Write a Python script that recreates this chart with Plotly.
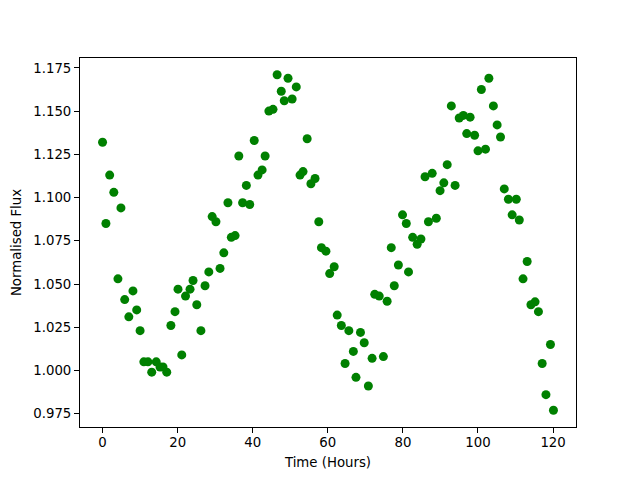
import plotly.graph_objects as go

hours = [0.0, 0.9, 1.9, 3.0, 4.1, 4.9, 5.9, 7.0, 8.1, 9.1, 10.0, 11.0, 12.1, 13.1, 14.3,
         15.3, 16.1, 17.1, 18.2, 19.3, 20.1, 21.1, 22.1, 23.3, 24.1, 25.1, 26.2, 27.3,
         28.3, 29.2, 30.2, 31.3, 32.3, 33.4, 34.3, 35.3, 36.3, 37.3, 38.3, 39.2, 40.4,
         41.4, 42.5, 43.3, 44.3, 45.4, 46.5, 47.6, 48.4, 49.4, 50.5, 51.6, 52.6, 53.4,
         54.5, 55.5, 56.6, 57.6, 58.3, 59.5, 60.5, 61.7, 62.5, 63.6, 64.6, 65.6, 66.8,
         67.5, 68.7, 69.7, 70.8, 71.8, 72.5, 73.7, 74.8, 75.8, 76.9, 77.7, 78.8, 79.9,
         80.9, 81.5, 82.6, 83.8, 84.8, 85.9, 86.8, 87.8, 88.9, 89.9, 90.9, 91.8, 92.9,
         93.9, 95.0, 96.1, 97.0, 97.9, 99.1, 100.0, 100.9, 102.0, 102.9, 104.1, 105.1,
         106.0, 107.0, 108.1, 109.1, 110.2, 111.0, 112.0, 113.1, 114.1, 115.2, 116.1,
         117.1, 118.1, 119.3, 120.1]

flux = [1.132, 1.085, 1.113, 1.103, 1.053, 1.094, 1.041, 1.031, 1.046, 1.035, 1.023,
        1.005, 1.005, 0.999, 1.005, 1.002, 1.002, 0.999, 1.026, 1.034, 1.047, 1.009,
        1.043, 1.047, 1.052, 1.038, 1.023, 1.049, 1.057, 1.089, 1.086, 1.059, 1.068,
        1.097, 1.077, 1.078, 1.124, 1.097, 1.107, 1.096, 1.133, 1.113, 1.116, 1.124,
        1.150, 1.151, 1.171, 1.1615, 1.156, 1.169, 1.157, 1.164, 1.113, 1.115, 1.134,
        1.108, 1.111, 1.086, 1.071, 1.069, 1.056, 1.060, 1.032, 1.026, 1.004, 1.023,
        1.011, 0.996, 1.022, 1.016, 0.991, 1.007, 1.044, 1.043, 1.008, 1.040, 1.071,
        1.049, 1.061, 1.090, 1.085, 1.057, 1.077, 1.073, 1.076, 1.112, 1.086, 1.114,
        1.088, 1.104, 1.1085, 1.119, 1.153, 1.107, 1.146, 1.1475, 1.137, 1.1465, 1.136,
        1.127, 1.1625, 1.128, 1.169, 1.153, 1.142, 1.135, 1.105, 1.099, 1.090, 1.099,
        1.087, 1.053, 1.063, 1.038, 1.0397, 1.034, 1.004, 0.986, 1.015, 0.977]

x_ticks = [0, 20, 40, 60, 80, 100, 120]
y_ticks = [0.975, 1.000, 1.025, 1.050, 1.075, 1.100, 1.125, 1.150, 1.175]

xmin, xmax = min(hours), max(hours)
ymin, ymax = min(flux), max(flux)
xpad = 0.05 * (xmax - xmin)
ypad = 0.05 * (ymax - ymin)

fig = go.Figure(go.Scatter(
    x=hours, y=flux, mode="markers",
    marker=dict(color="#008000", size=9, line=dict(width=0)),
))

font = dict(family="DejaVu Sans", size=13.3, color="black")

axis_common = dict(
    showline=True, linecolor="black", linewidth=1, mirror=True,
    ticks="outside", ticklen=5, tickwidth=1, tickcolor="black",
    showgrid=False, zeroline=False, automargin=False, tickfont=font,
)

# page body has an 8px margin, so the figure is shrunk by 8px to keep the plot area aligned
fig.update_layout(
    width=632, height=472,
    margin=dict(l=72, r=64, t=50, b=53),
    paper_bgcolor="white", plot_bgcolor="white",
    font=font,
    showlegend=False,
    xaxis=dict(range=[xmin - xpad, xmax + xpad], tickvals=x_ticks, ticklabelstandoff=-2,
               title=dict(text="Time (Hours)", standoff=8, font=font), **axis_common),
    yaxis=dict(range=[ymin - ypad, ymax + ypad], tickvals=y_ticks, tickformat=".3f",
               title=dict(text="Normalised Flux", standoff=8, font=font), **axis_common),
)

fig.write_html("out.html")
